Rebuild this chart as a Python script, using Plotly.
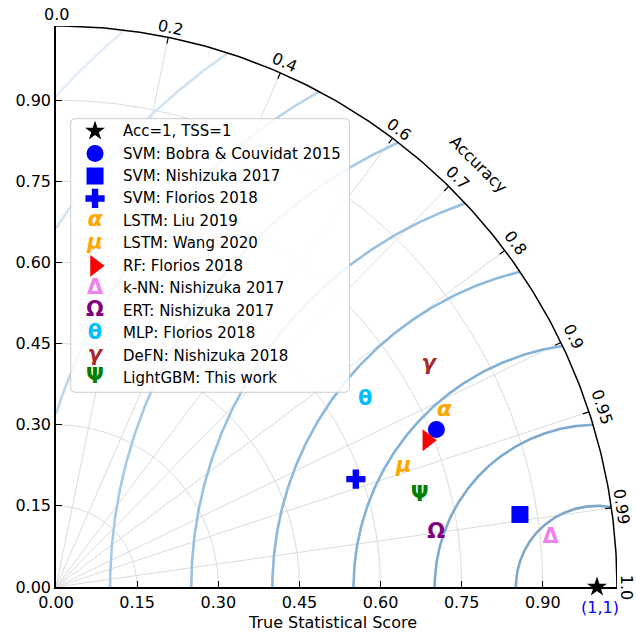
import numpy as np
import plotly.graph_objects as go

# ---------------- data ----------------
models = ["SVM: Bobra & Couvidat 2015", "SVM: Nishizuka 2017", "SVM: Florios 2018",
          "LSTM: Liu 2019", "LSTM: Wang 2020", "RF: Florios 2018",
          "k-NN: Nishizuka 2017", "ERT: Nishizuka 2017", "MLP: Florios 2018",
          "DeFN: Nishizuka 2018", "LightGBM: This work"]
tss = [0.761, 0.868, 0.589, 0.789, 0.680, 0.738, 0.919, 0.710, 0.668, 0.802, 0.693]
accuracy = [0.924, 0.988, 0.941, 0.910, 0.945, 0.930, 0.995, 0.990, 0.856, 0.859, 0.970]

ref_label = "Acc=1, TSS=1"
ref_tss = [1.0]
ref_acc = [1.0]

acc_ticks = [0.0, 0.2, 0.4, 0.6, 0.7, 0.8, 0.9, 0.95, 0.99, 1.0]
acc_ticklabels = ["0.0", "0.2", "0.4", "0.6", "0.7", "0.8", "0.9", "0.95", "0.99", "1.0"]
tss_ticks = [0.0, 0.15, 0.30, 0.45, 0.60, 0.75, 0.90]
tss_ticklabels = ["0.00", "0.15", "0.30", "0.45", "0.60", "0.75", "0.90"]
contour_levels = [0.15, 0.30, 0.45, 0.60, 0.75, 0.90, 1.05, 1.20, 1.35]

# ---------------- styles ----------------
colors = ["#0000ff", "#0000ff", "#0000ff", "#ffa500", "#ffa500", "#ff0000",
          "#ee82ee", "#800080", "#00bfff", "#a52a2a", "#008000"]
styles = [("marker", "circle", 17, None), ("marker", "square", 17, None),
          ("marker", "cross", 16, None), ("text", "α", 22, "italic"),
          ("text", "μ", 21, "italic"), ("marker", "triangle-right", 19, None),
          ("text", "Δ", 21, "normal"), ("text", "Ω", 21, "normal"),
          ("text", "θ", 21, "normal"), ("text", "γ", 21, "italic"),
          ("text", "Ψ", 21, "normal")]
contour_colors = ["#7fa6cb", "#7faacf", "#84b1d6", "#8cb8dc", "#98c0e1", "#a6c9e5",
                  "#bbd6ec", "#d1e3f2", "#e4edf8"]
FONT = "DejaVu Sans"
RMAX = 1.037
PX = 540.6  # pixels per unit
label_radius = [1.058, 1.056, 1.058, 1.056, 1.060, 1.061, 1.063, 1.063, 1.056, 1.056]

def to_xy(r, a):
    r = np.asarray(r, float)
    th = np.arccos(np.clip(np.asarray(a, float), -1, 1))
    return r * np.cos(th), r * np.sin(th)

fig = go.Figure()

def line(x, y, color, width):
    fig.add_trace(go.Scatter(x=x, y=y, mode="lines", line=dict(color=color, width=width),
                             hoverinfo="skip", showlegend=False))

# gray TSS circles
t = np.linspace(0, np.pi / 2, 200)
for r in tss_ticks[1:]:
    line(r * np.cos(t), r * np.sin(t), "#dcdcdc", 1)
# gray accuracy radial lines
for a in acc_ticks[1:-1]:
    th = np.arccos(a)
    line([0, RMAX * np.cos(th)], [0, RMAX * np.sin(th)], "#dcdcdc", 1)
# blue contours centred on reference point
for R, c in zip(contour_levels, contour_colors):
    c0 = (RMAX ** 2 - 1 - R ** 2) / (2 * R)
    p0 = np.arccos(np.clip(c0, -1, 1))
    p1 = np.arccos(-1 / R) if R > 1 else np.pi
    ph = np.linspace(p0, p1, 300)
    line(1 + R * np.cos(ph), R * np.sin(ph), c, 2.6)
# outer arc
line(RMAX * np.cos(t), RMAX * np.sin(t), "black", 1.5)
# arc ticks
for a in acc_ticks[1:-1]:
    th = np.arccos(a)
    line([RMAX * np.cos(th), (RMAX - 0.012) * np.cos(th)],
         [RMAX * np.sin(th), (RMAX - 0.012) * np.sin(th)], "black", 1.2)

# ---------------- legend box ----------------
def px2d(px, py):
    return (px - 56) / PX, (587.3 - py) / PX

lx0, ly1 = px2d(70.7, 119.3)
lx1, ly0 = px2d(349.3, 392.7)
rc = 4 / PX
cx, cy = [], []
for (ccx, ccy, a0) in [(lx1 - rc, ly1 - rc, 0), (lx0 + rc, ly1 - rc, 90),
                       (lx0 + rc, ly0 + rc, 180), (lx1 - rc, ly0 + rc, 270)]:
    aa = np.radians(np.linspace(a0, a0 + 90, 10))
    cx += list(ccx + rc * np.cos(aa))
    cy += list(ccy + rc * np.sin(aa))
cx.append(cx[0]); cy.append(cy[0])
fig.add_trace(go.Scatter(x=cx, y=cy, mode="lines", fill="toself", fillcolor="rgba(255,255,255,0.85)",
                         line=dict(color="#cccccc", width=1), hoverinfo="skip", showlegend=False))

# ---------------- points ----------------
def draw_point(x, y, style, color):
    kind, sym, size, fst = style
    if kind == "marker":
        fig.add_trace(go.Scatter(x=x, y=y, mode="markers", cliponaxis=False,
                                 marker=dict(symbol=sym, size=size, color=color, line=dict(width=0)),
                                 hoverinfo="skip", showlegend=False))
    else:
        fig.add_trace(go.Scatter(x=x, y=y, mode="text", text=[sym] * len(x), cliponaxis=False,
                                 textposition="middle center",
                                 textfont=dict(family=FONT, size=size, color=color,
                                               weight="bold", style=fst),
                                 hoverinfo="skip", showlegend=False))

rx, ry = to_xy(ref_tss, ref_acc)
fig.add_trace(go.Scatter(x=rx, y=ry, mode="markers", cliponaxis=False,
                         marker=dict(symbol="star", size=15, color="black", line=dict(width=0)),
                         hoverinfo="skip", showlegend=False))
for i in range(len(models)):
    x, y = to_xy([tss[i]], [accuracy[i]])
    draw_point(x, y, styles[i], colors[i])

# annotations in paper coordinates (paper = plot area, spanning [0, RMAX] on both axes)
ann = []
def add_ann(x, y, text, size=16, color="black", angle=0, xanchor="center"):
    ann.append(dict(x=x / RMAX, y=y / RMAX, xref="paper", yref="paper", text=text, showarrow=False,
                    textangle=angle, xanchor=xanchor, yanchor="middle",
                    font=dict(family=FONT, size=size, color=color)))

# legend entries
row0, dy = 131.7, 22.45
sx, _ = px2d(95, 0)
tx, _ = px2d(120.7, 0)
labels = [ref_label] + models
for k, lab in enumerate(labels):
    _, yy = px2d(0, row0 + k * dy)
    if k == 0:
        fig.add_trace(go.Scatter(x=[sx], y=[yy], mode="markers",
                                 marker=dict(symbol="star", size=15, color="black", line=dict(width=0)),
                                 hoverinfo="skip", showlegend=False))
    else:
        draw_point([sx], [yy], styles[k - 1], colors[k - 1])
    add_ann(tx, yy, lab, size=15, xanchor="left")

# accuracy tick labels
for a, lab, r in zip(acc_ticks, acc_ticklabels, label_radius):
    thd = np.degrees(np.arccos(a))
    add_ann(r * np.cos(np.radians(thd)), r * np.sin(np.radians(thd)), lab, angle=90 - thd)
add_ann(1.105 * np.cos(np.radians(45)), 1.105 * np.sin(np.radians(45)), "Accuracy", angle=45)
add_ann((332 - 56) / PX, (587.3 - 623) / PX, "True Statistical Score")
add_ann((600 - 56) / PX, (587.3 - 607.7) / PX, "(1,1)", color="blue")

axis_common = dict(range=[0, RMAX], showgrid=False, zeroline=False, showline=True, linecolor="black",
                   linewidth=1.6, ticks="inside", ticklen=6, tickwidth=1.2, tickcolor="black",
                   tickvals=tss_ticks, ticktext=tss_ticklabels,
                   tickfont=dict(family=FONT, size=16, color="black"), fixedrange=True)
fig.update_layout(
    width=636, height=637,
    margin=dict(l=56, r=636 - 56 - RMAX * PX, t=637 - 50 - RMAX * PX, b=50, pad=0),
    paper_bgcolor="white", plot_bgcolor="white",
    xaxis=axis_common, yaxis=axis_common,
    annotations=ann, showlegend=False,
    font=dict(family=FONT),
)
fig.write_html("out.html")
